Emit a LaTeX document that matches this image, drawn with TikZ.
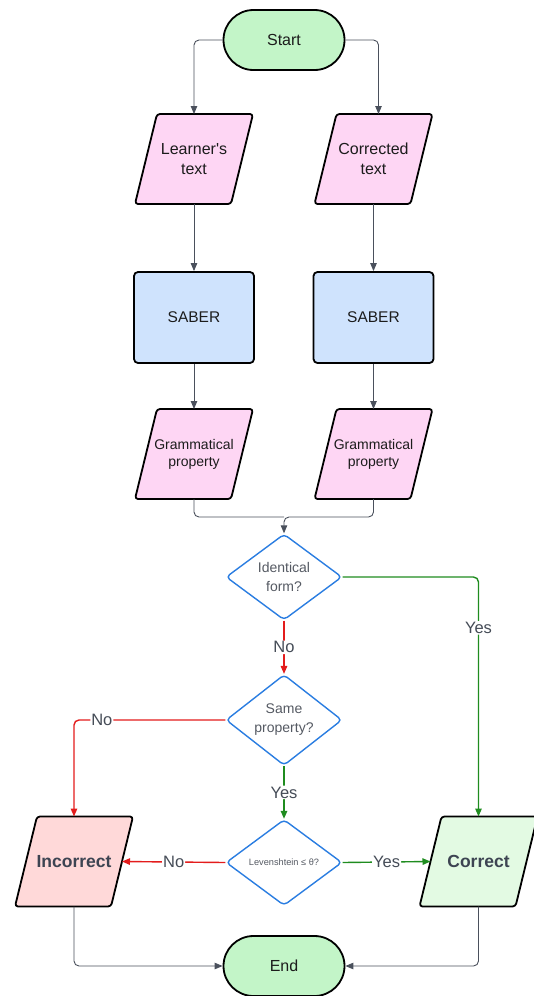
\documentclass[tikz,border=0pt]{standalone}
\usepackage{fontspec}
\setmainfont{Liberation Sans}[Ligatures=TeXOff]
\usetikzlibrary{shapes.geometric,arrows.meta,backgrounds}

\definecolor{termfill}{HTML}{C3F5C8}
\definecolor{datafill}{HTML}{FED6F4}
\definecolor{procfill}{HTML}{CFE3FD}
\definecolor{badfill}{HTML}{FFD9D9}
\definecolor{goodfill}{HTML}{E3FAE3}
\definecolor{decblue}{HTML}{2A7DE1}
\definecolor{flowgray}{HTML}{4A505C}
\definecolor{nored}{HTML}{E31C1C}
\definecolor{yesgreen}{HTML}{1F8C1F}
\definecolor{ink}{HTML}{1C1C1C}
\definecolor{decink}{HTML}{555A63}
\definecolor{lblink}{HTML}{454C57}
\definecolor{boldink}{HTML}{3D4452}

% slanted data box drawn behind a named text node
\newcommand\slantbox[2]{%
  \begin{scope}[on background layer]
    \draw[fill=#2, line width=1.8pt, rounded corners=3pt, line join=round]
      ([xshift=11pt]#1.north west) -- ([xshift=11pt]#1.north east) --
      ([xshift=-11pt]#1.south east) -- ([xshift=-11pt]#1.south west) -- cycle;
  \end{scope}}

\begin{document}
\begin{tikzpicture}[x=1pt, y=-1pt,
  term/.style={draw, line width=1.8pt, fill=termfill, rounded corners=30pt,
    minimum width=121pt, minimum height=60pt, text=ink,
    font=\fontsize{16}{18}\selectfont},
  proc/.style={draw, line width=1.8pt, fill=procfill, rounded corners=4pt,
    minimum width=120pt, minimum height=91pt, text=ink,
    font=\fontsize{15.5}{18}\selectfont},
  data/.style={inner sep=0pt, outer sep=0pt, minimum width=96pt,
    minimum height=90pt, align=center, text=ink,
    font=\fontsize{16}{20}\selectfont},
  smalldata/.style={data, font=\fontsize{14}{17}\selectfont},
  verdict/.style={data, font=\fontsize{17.5}{20}\selectfont\bfseries, text=boldink},
  decide/.style={diamond, draw=decblue, line width=1.4pt, fill=white,
    rounded corners=4pt, minimum width=116pt, minimum height=86pt,
    inner sep=0pt, align=center, text=decink,
    font=\fontsize{14}{19}\selectfont},
  conn/.style={draw=flowgray, line width=0.9pt, rounded corners=5pt},
  flow/.style={conn, -{Triangle[width=6.5pt,length=8pt]}},
  noflow/.style={flow, draw=nored, line width=1.4pt},
  yesflow/.style={flow, draw=yesgreen, line width=1.4pt},
  lbl/.style={fill=white, text=lblink, inner sep=1pt,
    font=\fontsize{16.5}{18}\selectfont}
]
\useasboundingbox (0,0) rectangle (533,996);

% terminals
\node[term] (start) at (284,40) {Start};
\node[term] (end) at (284,966) {End};

% inputs
\node[data] (learner) at (194,159) {Learner's\\text};
\slantbox{learner}{datafill}
\node[data] (corr) at (373.5,159) {Corrected\\text};
\slantbox{corr}{datafill}

% parser
\node[proc] (saberL) at (194,317.5) {SABER};
\node[proc] (saberR) at (373.5,317.5) {SABER};

% parser output
\node[smalldata] (gramL) at (194,454) {Grammatical\\property};
\slantbox{gramL}{datafill}
\node[smalldata] (gramR) at (373.5,454) {Grammatical\\property};
\slantbox{gramR}{datafill}

% decisions
\node[decide] (ident) at (284,577) {Identical\\form?};
\node[decide] (same) at (284,720) {Same\\property?};
\node[decide, font=\fontsize{9.2}{12}\selectfont] (lev) at (284,862.5) {Levenshtein ≤ θ?};

% verdicts
\node[verdict] (incorrect) at (74,861.5) {Incorrect};
\slantbox{incorrect}{badfill}
\node[verdict] (correct) at (478.5,861.5) {Correct};
\slantbox{correct}{goodfill}

% connectors
\draw[flow] (start.west) -| (learner.north);
\draw[flow] (start.east) -| ([xshift=5pt]corr.north);
\draw[flow] (learner.south) -- (saberL.north);
\draw[flow] (corr.south) -- (saberR.north);
\draw[flow] (saberL.south) -- (gramL.north);
\draw[flow] (saberR.south) -- (gramR.north);

\coordinate (merge) at (284,517);
\draw[conn] (gramL.south) |- (merge);
\draw[flow] (gramR.south) |- (merge) -- (ident.north);

\draw[yesflow] (ident.east) -| (correct.north) node[lbl, pos=0.606] {Yes};
\draw[noflow] (ident.south) -- (same.north) node[lbl, midway] {No};
\draw[noflow] (same.west) -| (incorrect.north) node[lbl, pos=0.408] {No};
\draw[yesflow] (same.south) -- (lev.north) node[lbl, midway] {Yes};
\draw[noflow] (lev.west) -- (incorrect.east) node[lbl, midway] {No};
\draw[yesflow] (lev.east) -- (correct.west) node[lbl, midway] {Yes};

\draw[flow] (incorrect.south) |- (end.west);
\draw[flow] (correct.south) |- (end.east);
\end{tikzpicture}
\end{document}
